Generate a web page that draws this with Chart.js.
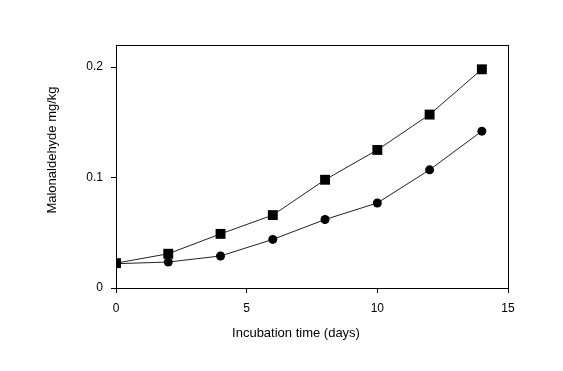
<!DOCTYPE html>
<html>
<head>
<meta charset="utf-8">
<script src="https://cdn.jsdelivr.net/npm/chart.js@4"></script>
<style>
  html, body { margin: 0; padding: 0; background: #fff; }
  #wrap { width: 563px; height: 371px; }
</style>
</head>
<body>
<div id="wrap"><canvas id="chart" width="563" height="371"></canvas></div>
<script>
// ===== DATOS =====
const days = [0, 2, 4, 6, 8, 10, 12, 14];
const seriesSquare = [0.0225, 0.031, 0.049, 0.066, 0.098, 0.125, 0.157, 0.198];
const seriesCircle = [0.022, 0.0235, 0.029, 0.044, 0.062, 0.077, 0.107, 0.142];
const xTicks = [0, 5, 10, 15];
const yTicks = [0, 0.1, 0.2];
const xTitle = "Incubation time (days)";
const yTitle = "Malonaldehyde mg/kg";

const font = { family: "'Liberation Sans', Arial, sans-serif", size: 12 };

// marco completo + títulos de ejes
const framePlugin = {
    id: "frame",
    afterDraw(chart) {
        const { ctx, chartArea: a } = chart;
        ctx.save();
        ctx.strokeStyle = "#000";
        ctx.lineWidth = 1;
        ctx.strokeRect(a.left + 0.5, a.top + 0.5, a.right - a.left, a.bottom - a.top);
        ctx.fillStyle = "#000";
        ctx.font = `13px ${font.family}`;
        ctx.textAlign = "center";
        ctx.textBaseline = "middle";
        ctx.fillText(xTitle, 296, 333);
        ctx.translate(52, 150);
        ctx.rotate(-Math.PI / 2);
        ctx.fillText(yTitle, 0, 0);
        ctx.restore();
    }
};

new Chart(document.getElementById("chart"), {
    type: "scatter",
    data: {
        datasets: [{
            data: days.map((d, i) => ({ x: d, y: seriesSquare[i] })),
            showLine: true,
            borderColor: "#222",
            borderWidth: 1,
            pointStyle: "rect",
            pointRadius: 7,
            pointBackgroundColor: "#000",
            pointBorderColor: "#000",
            pointBorderWidth: 0
        }, {
            data: days.map((d, i) => ({ x: d, y: seriesCircle[i] })),
            showLine: true,
            borderColor: "#222",
            borderWidth: 1,
            pointStyle: "circle",
            pointRadius: 4.5,
            pointBackgroundColor: "#000",
            pointBorderColor: "#000",
            pointBorderWidth: 0
        }]
    },
    options: {
        responsive: false,
        animation: false,
        layout: { padding: { left: 0, top: 45, right: 55, bottom: 0 } },
        plugins: {
            legend: { display: false },
            tooltip: { enabled: false }
        },
        scales: {
            x: {
                type: "linear",
                min: 0,
                max: 15,
                afterBuildTicks: s => { s.ticks = xTicks.map(v => ({ value: v })); },
                afterFit: s => { s.height = 83; },
                grid: { drawOnChartArea: false, drawTicks: true, tickLength: 5, color: "#000" },
                border: { color: "#000" },
                ticks: { color: "#000", font: font, padding: 8, maxRotation: 0 }
            },
            y: {
                type: "linear",
                min: 0,
                max: 0.22,
                afterBuildTicks: s => { s.ticks = yTicks.map(v => ({ value: v })); },
                afterFit: s => { s.width = 116; },
                grid: { drawOnChartArea: false, drawTicks: true, tickLength: 5, color: "#000" },
                border: { color: "#000" },
                ticks: { color: "#000", font: font, padding: 8 }
            }
        }
    },
    plugins: [framePlugin]
});
</script>
</body>
</html>
